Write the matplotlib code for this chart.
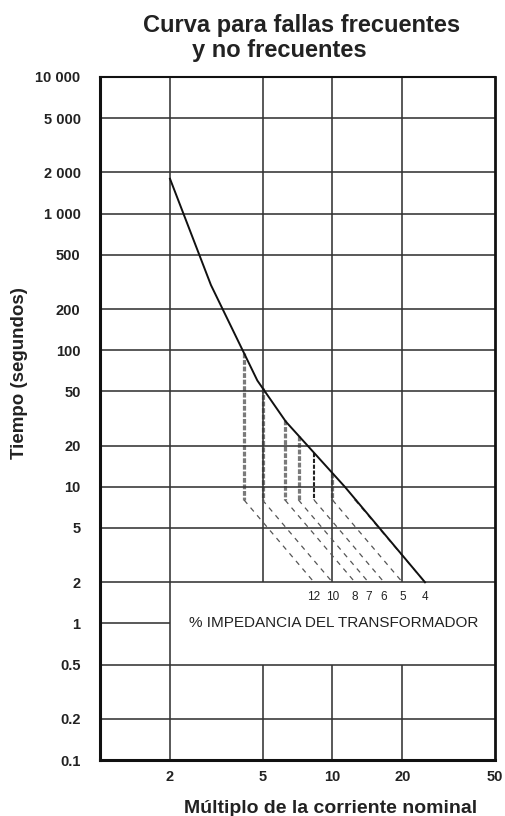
import numpy as np
import matplotlib
matplotlib.use("Agg")
import matplotlib.pyplot as plt
from matplotlib.ticker import NullLocator

# ---------------- data ----------------
multiples = [2, 3, 4.75, 6.3, 11.3, 25]          # multiple of rated current
times = [1800, 300, 60, 30, 10, 2]               # seconds
impedances = [12, 10, 8, 7, 6, 5, 4]             # % transformer impedance
t_knee = 8                                       # bottom of vertical dashed lines (s)
t_end = 2                                        # end of the dashed I^2t lines (s)

y_ticks = [0.1, 0.2, 0.5, 1, 2, 5, 10, 20, 50, 100, 200, 500, 1000, 2000, 5000, 10000]
y_ticklabels = ["0.1", "0.2", "0.5", "1", "2", "5", "10", "20", "50", "100", "200",
                "500", "1 000", "2 000", "5 000", "10 000"]
x_ticks = [2, 5, 10, 20, 50]
x_ticklabels = ["2", "5", "10", "20", "50"]
x_limits = (1, 50)
y_limits = (0.1, 10000)
blank_x = (2, 50)      # region kept free of grid for the annotation
blank_y = (0.5, 2)

title1 = "Curva para fallas frecuentes"
title2 = "y no frecuentes"
xlabel = "Múltiplo de la corriente nominal"
ylabel = "Tiempo (segundos)"
note = "% IMPEDANCIA DEL TRANSFORMADOR"

# ---------------- figure ----------------
plt.rcParams["font.family"] = ["Liberation Sans", "DejaVu Sans"]
W, H = 506, 816
fig = plt.figure(figsize=(W / 100, H / 100), dpi=100)
ax = fig.add_axes([100 / W, 1 - 760 / H, 395 / W, 683 / H])
ax.set_xscale("log")
ax.set_yscale("log")
ax.set_xlim(*x_limits)
ax.set_ylim(*y_limits)

grid_kw = dict(color="#333333", lw=1.15, zorder=2)
for y in y_ticks[1:-1]:
    if blank_y[0] < y < blank_y[1]:
        ax.hlines(y, x_limits[0], blank_x[0], **grid_kw)
    else:
        ax.hlines(y, x_limits[0], x_limits[1], **grid_kw)
for x in x_ticks[:-1]:
    if x <= blank_x[0]:
        ax.vlines(x, y_limits[0], y_limits[1], **grid_kw)
    else:
        ax.vlines(x, y_limits[0], blank_y[0], **grid_kw)
        ax.vlines(x, blank_y[1], y_limits[1], **grid_kw)

# main curve
ax.plot(multiples, times, color="#111111", lw=1.4, zorder=5)

lx, lt = np.log10(multiples), np.log10(times)
for z in impedances:
    i_full = 100.0 / z
    i_half = i_full / 2.0
    t_on_curve = 10 ** np.interp(np.log10(i_half), lx, lt)
    if t_on_curve > t_knee:
        dark = (z == 6)
        ax.plot([i_half, i_half], [t_on_curve, t_knee],
                color="#222222" if dark else "#7a7a7a",
                lw=1.5 if dark else 2.3,
                dashes=(2.0, 0.8) if dark else (1.5, 0.55), zorder=1.5)
    ii = np.geomspace(i_half, i_full, 40)
    tt = t_end * (i_full / ii) ** 2
    ax.plot(ii, tt, color="#555555", lw=0.9, dashes=(4, 4), zorder=3)
    ax.text(i_full, 1.55, str(z), ha="center", va="center", fontsize=8.5,
            color="#222222", zorder=6)

ax.text(10.1, 1.0, note, ha="center", va="center", fontsize=11, color="#222222")

# ticks
ax.set_xticks(x_ticks)
ax.set_xticklabels(x_ticklabels)
ax.set_yticks(y_ticks)
ax.set_yticklabels(y_ticklabels)
ax.xaxis.set_minor_locator(NullLocator())
ax.yaxis.set_minor_locator(NullLocator())
ax.tick_params(length=0)
ax.tick_params(axis="y", pad=14)
ax.tick_params(axis="x", pad=7)
for lab in ax.get_xticklabels() + ax.get_yticklabels():
    lab.set_fontweight("bold")
    lab.set_fontsize(10.5)
    lab.set_color("#222222")

for side, lw in (("left", 2.2), ("bottom", 2.2), ("right", 2.0), ("top", 1.5)):
    ax.spines[side].set_linewidth(lw)
    ax.spines[side].set_color("#111111")

# texts
fig.text(143 / W, 1 - 32 / H, title1, ha="left", va="baseline", fontsize=17,
         fontweight="bold", color="#222222")
fig.text(192 / W, 1 - 57 / H, title2, ha="left", va="baseline", fontsize=17,
         fontweight="bold", color="#222222")
fig.text(331 / W, 1 - 813 / H, xlabel, ha="center", va="baseline", fontsize=14,
         fontweight="bold", color="#222222")
fig.text(20 / W, 1 - 373 / H, ylabel, ha="center", va="center", rotation=90,
         fontsize=13.5, fontweight="bold", color="#222222")

fig.savefig("out.png", dpi=100)
